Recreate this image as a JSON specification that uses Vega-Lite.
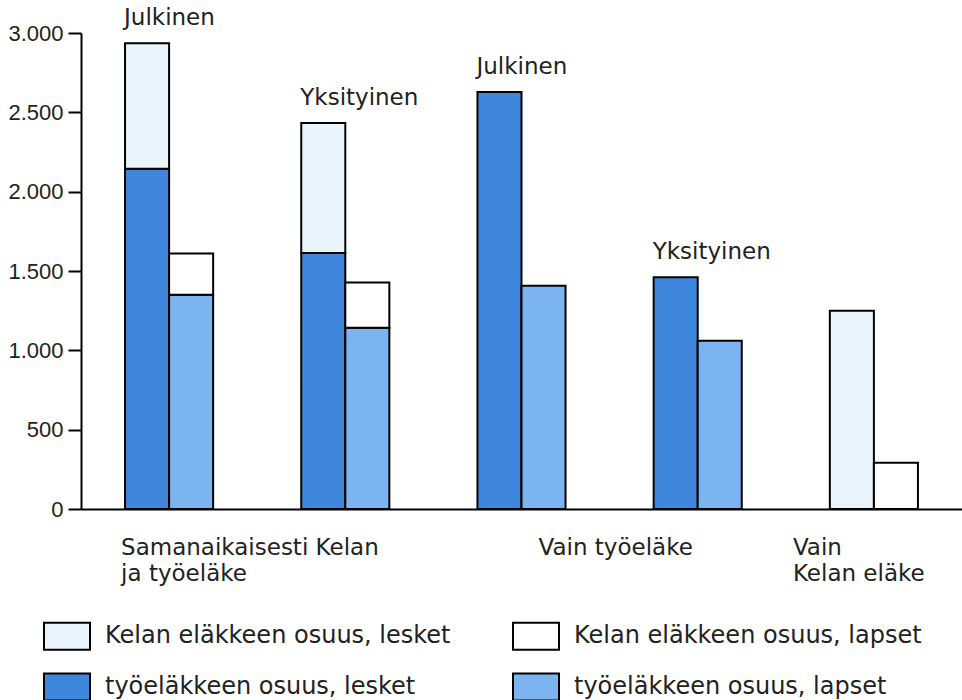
{
  "$schema": "https://vega.github.io/schema/vega-lite/v6.json",
  "autosize": {"type": "none"},
  "padding": {"left": 81, "top": 33, "right": 0, "bottom": 191},
  "width": 881,
  "height": 476,
  "background": "white",
  "config": {
    "view": {"stroke": null},
    "font": "DejaVu Sans"
  },
  "data": {
    "values": [
      {"ryhmä": "1", "kategoria": "Samanaikaisesti Kelan\nja työeläke", "sektori": "Julkinen", "saaja": "lesket", "osa": "työeläke", "sarja": "työeläkkeen osuus, lesket", "arvo": 2145},
      {"ryhmä": "1", "kategoria": "Samanaikaisesti Kelan\nja työeläke", "sektori": "Julkinen", "saaja": "lesket", "osa": "Kela", "sarja": "Kelan eläkkeen osuus, lesket", "arvo": 790},
      {"ryhmä": "1", "kategoria": "Samanaikaisesti Kelan\nja työeläke", "sektori": "Julkinen", "saaja": "lapset", "osa": "työeläke", "sarja": "työeläkkeen osuus, lapset", "arvo": 1350},
      {"ryhmä": "1", "kategoria": "Samanaikaisesti Kelan\nja työeläke", "sektori": "Julkinen", "saaja": "lapset", "osa": "Kela", "sarja": "Kelan eläkkeen osuus, lapset", "arvo": 260},
      {"ryhmä": "2", "kategoria": "Samanaikaisesti Kelan\nja työeläke", "sektori": "Yksityinen", "saaja": "lesket", "osa": "työeläke", "sarja": "työeläkkeen osuus, lesket", "arvo": 1613},
      {"ryhmä": "2", "kategoria": "Samanaikaisesti Kelan\nja työeläke", "sektori": "Yksityinen", "saaja": "lesket", "osa": "Kela", "sarja": "Kelan eläkkeen osuus, lesket", "arvo": 820},
      {"ryhmä": "2", "kategoria": "Samanaikaisesti Kelan\nja työeläke", "sektori": "Yksityinen", "saaja": "lapset", "osa": "työeläke", "sarja": "työeläkkeen osuus, lapset", "arvo": 1142},
      {"ryhmä": "2", "kategoria": "Samanaikaisesti Kelan\nja työeläke", "sektori": "Yksityinen", "saaja": "lapset", "osa": "Kela", "sarja": "Kelan eläkkeen osuus, lapset", "arvo": 286},
      {"ryhmä": "3", "kategoria": "Vain työeläke", "sektori": "Julkinen", "saaja": "lesket", "osa": "työeläke", "sarja": "työeläkkeen osuus, lesket", "arvo": 2628},
      {"ryhmä": "3", "kategoria": "Vain työeläke", "sektori": "Julkinen", "saaja": "lapset", "osa": "työeläke", "sarja": "työeläkkeen osuus, lapset", "arvo": 1407},
      {"ryhmä": "4", "kategoria": "Vain työeläke", "sektori": "Yksityinen", "saaja": "lesket", "osa": "työeläke", "sarja": "työeläkkeen osuus, lesket", "arvo": 1460},
      {"ryhmä": "4", "kategoria": "Vain työeläke", "sektori": "Yksityinen", "saaja": "lapset", "osa": "työeläke", "sarja": "työeläkkeen osuus, lapset", "arvo": 1060},
      {"ryhmä": "5", "kategoria": "Vain\nKelan eläke", "sektori": "", "saaja": "lesket", "osa": "Kela", "sarja": "Kelan eläkkeen osuus, lesket", "arvo": 1249},
      {"ryhmä": "5", "kategoria": "Vain\nKelan eläke", "sektori": "", "saaja": "lapset", "osa": "Kela", "sarja": "Kelan eläkkeen osuus, lapset", "arvo": 292}
    ]
  },
  "layer": [
    {
      "mark": {"type": "bar", "stroke": "black", "strokeWidth": 2},
      "encoding": {
        "x": {
          "field": "ryhmä", "type": "nominal",
          "scale": {"domain": ["1", "2", "3", "4", "5"], "paddingInner": 0.5, "paddingOuter": 0.25},
          "axis": {"title": null, "labels": false, "ticks": false, "domainColor": "black", "domainWidth": 2}
        },
        "xOffset": {
          "field": "saaja", "type": "nominal",
          "scale": {"domain": ["lesket", "lapset"], "paddingInner": 0, "paddingOuter": 0}
        },
        "y": {
          "field": "arvo", "type": "quantitative", "stack": "zero",
          "scale": {"domain": [0, 3000], "nice": false},
          "axis": {
            "title": null,
            "values": [0, 250, 500, 750, 1000, 1250, 1500, 1750, 2000, 2250, 2500, 2750, 3000],
            "grid": false,
            "domainColor": "black", "domainWidth": 2,
            "tickColor": "black", "tickWidth": 2,
            "tickSize": {"condition": {"test": "datum.value % 500 !== 0", "value": 4}, "value": 13},
            "labelExpr": "datum.value % 500 === 0 ? replace(format(datum.value, ','), ',', '.') : ''",
            "labelFont": "Liberation Sans", "labelFontSize": 22, "labelColor": "#222", "labelPadding": 5
          }
        },
        "order": {"field": "osa", "sort": "descending"},
        "color": {
          "field": "sarja", "type": "nominal",
          "scale": {
            "domain": ["Kelan eläkkeen osuus, lesket", "Kelan eläkkeen osuus, lapset", "työeläkkeen osuus, lesket", "työeläkkeen osuus, lapset"],
            "range": ["#eaf4fd", "#ffffff", "#3f87dd", "#7cb4f2"]
          },
          "legend": {
            "title": null, "orient": "none", "legendX": -38, "legendY": 579,
            "direction": "horizontal",
            "columns": 2, "columnPadding": 58, "rowPadding": 9,
            "symbolType": "M-1,-0.587H1V0.587H-1Z", "symbolSize": 2116,
            "symbolStrokeColor": "black", "symbolStrokeWidth": 2,
            "labelFont": "DejaVu Sans", "labelFontSize": 24, "labelColor": "#222",
            "labelOffset": 14, "labelLimit": 500
          }
        }
      }
    },
    {
      "transform": [
        {"filter": "datum.saaja === 'lesket' && datum.sektori !== ''"},
        {"aggregate": [{"op": "sum", "field": "arvo", "as": "yhteensä"}], "groupby": ["ryhmä", "sektori", "saaja"]}
      ],
      "mark": {"type": "text", "align": "left", "baseline": "alphabetic", "dx": -23, "dy": -18, "fontSize": 23, "color": "#222"},
      "encoding": {
        "x": {"field": "ryhmä", "type": "nominal"},
        "xOffset": {"field": "saaja", "type": "nominal"},
        "y": {"field": "yhteensä", "type": "quantitative"},
        "text": {"field": "sektori"}
      }
    },
    {
      "transform": [{"filter": "datum.ryhmä === '1' && datum.saaja === 'lesket' && datum.osa === 'työeläke'"}],
      "mark": {"type": "text", "align": "left", "baseline": "alphabetic", "lineBreak": "\n", "lineHeight": 26, "dx": -48, "dy": 46, "fontSize": 23, "color": "#222"},
      "encoding": {
        "x": {"field": "ryhmä", "type": "nominal"},
        "y": {"datum": 0},
        "text": {"field": "kategoria"}
      }
    },
    {
      "transform": [{"filter": "datum.ryhmä === '3' && datum.saaja === 'lesket'"}],
      "mark": {"type": "text", "align": "left", "baseline": "alphabetic", "lineBreak": "\n", "lineHeight": 26, "dx": 17, "dy": 46, "fontSize": 23, "color": "#222"},
      "encoding": {
        "x": {"field": "ryhmä", "type": "nominal"},
        "y": {"datum": 0},
        "text": {"field": "kategoria"}
      }
    },
    {
      "transform": [{"filter": "datum.ryhmä === '5' && datum.saaja === 'lesket'"}],
      "mark": {"type": "text", "align": "left", "baseline": "alphabetic", "lineBreak": "\n", "lineHeight": 26, "dx": -81, "dy": 46, "fontSize": 23, "color": "#222"},
      "encoding": {
        "x": {"field": "ryhmä", "type": "nominal"},
        "y": {"datum": 0},
        "text": {"field": "kategoria"}
      }
    }
  ]
}
